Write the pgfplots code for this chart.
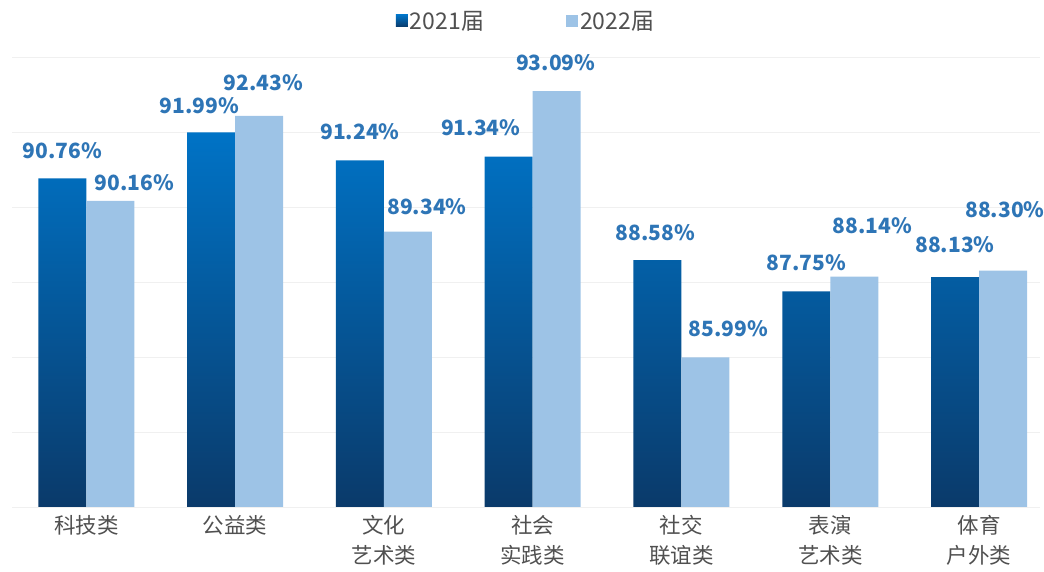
\documentclass[border=0pt]{standalone}
\usepackage{fontspec}
\setmainfont{Noto Sans CJK SC}
\usepackage{pgfplots}
\usepackage{pgfplotstable}
\pgfplotsset{compat=1.18}
\definecolor{darkb}{HTML}{0073C6}
\definecolor{midb}{HTML}{0068B4}
\definecolor{botb}{HTML}{0A3A6A}
\definecolor{lightb}{HTML}{9DC3E6}
\definecolor{labb}{HTML}{2E75B6}
\definecolor{tickg}{HTML}{505050}
\pgfplotstableread{
x y dx dy
0 90.76 0 28
1 91.99 -12 27
2 91.24 0 29
3 91.34 -28 29
4 88.58 -2 28
5 87.75 0 29
6 88.13 0 32
}\tabA
\pgfplotstableread{
x y dx dy
0 90.16 24 18
1 92.43 4 33
2 89.34 19 25
3 93.09 -1 28
4 85.99 23 29
5 88.14 18 51
6 88.30 2 61
}\tabB
\begin{document}
\begin{tikzpicture}
\path[use as bounding box] (0,0) rectangle (1044pt,572pt);
\begin{axis}[
  at={(12pt,65pt)}, anchor=south west,
  scale only axis, width=1028pt, height=450pt,
  xmin=-0.5, xmax=6.41, ymin=82, ymax=94,
  ytick={82,84,...,94}, yticklabels={},
  ymajorgrids, grid style={draw=gray!12, line width=0.8pt},
  axis line style={draw=none},
  major tick length=0pt,
  xtick={0,...,6},
  xticklabels={科技类, 公益类, {文化\\艺术类}, {社会\\实践类}, {社交\\联谊类}, {表演\\艺术类}, {体育\\户外类}},
  xticklabel style={align=center, font=\fontsize{21.5}{30}\selectfont, text=tickg, yshift=-5pt},
  ybar=0pt, bar width=48pt,
  clip=false,
  nodes near coords={\pgfmathprintnumber[fixed, fixed zerofill, precision=2, assume math mode=true]{\pgfplotspointmeta}\%},
  nodes near coords style={anchor=center, xshift=\dx pt, yshift=\dy pt, font=\fontsize{21}{24}\selectfont\bfseries, text=labb},
  visualization depends on={\thisrow{dx} \as \dx},
  visualization depends on={\thisrow{dy} \as \dy},
  legend style={at={(0.5,1)}, anchor=south, yshift=22pt, draw=none, font=\fontsize{23}{26}\selectfont, text=tickg, legend columns=2, /tikz/every even column/.append style={column sep=80pt}},
  legend image code/.code={\fill[#1] (0pt,-6pt) rectangle (12pt,6pt);},
]
\addplot[draw=none, top color=darkb, middle color=midb, bottom color=botb] table[x=x,y=y] {\tabA};
\addlegendentry{2021届}
\addplot[draw=none, fill=lightb] table[x=x,y=y] {\tabB};
\addlegendentry{2022届}
\end{axis}
\end{tikzpicture}
\end{document}
